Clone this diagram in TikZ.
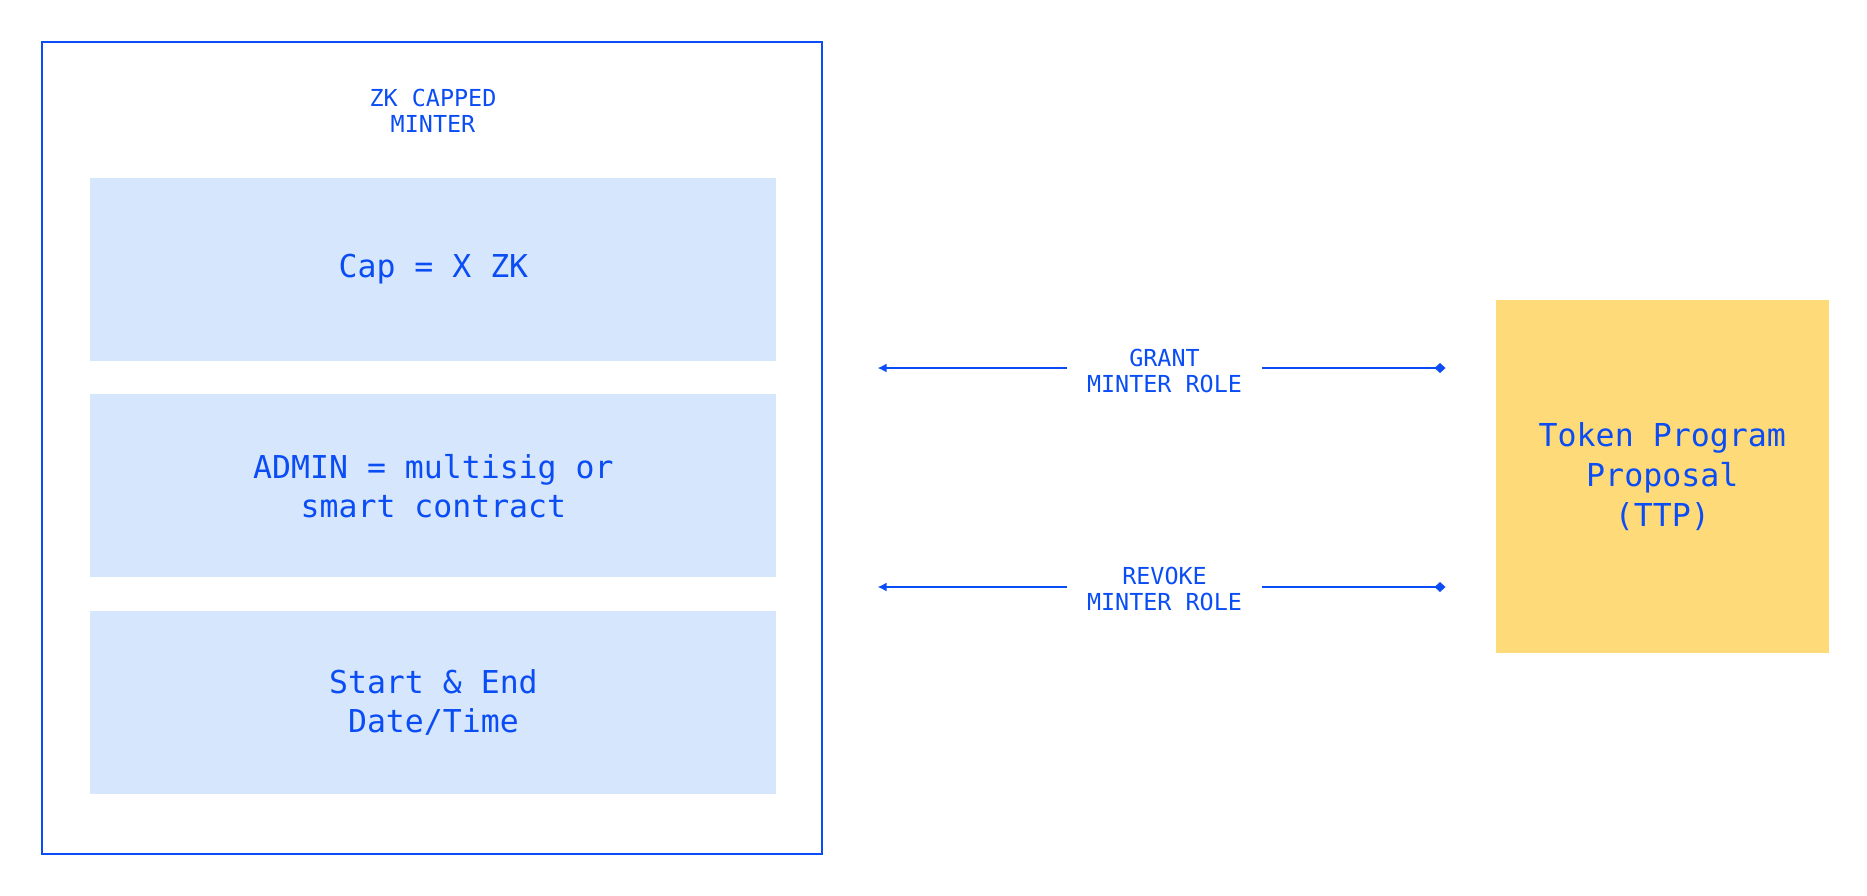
\documentclass[tikz,border=0pt]{standalone}
\usepackage{fontspec}
\setmonofont{DejaVu Sans Mono}
\usetikzlibrary{positioning, arrows.meta}
\definecolor{zkblue}{HTML}{0B4DF5}
\definecolor{zkfill}{HTML}{D6E6FC}
\definecolor{zkgold}{HTML}{FFDA78}

\begin{document}
\begin{tikzpicture}[x=1pt, y=-1pt,
    every node/.style={font=\ttfamily, text=zkblue, align=center},
    field/.style={fill=zkfill, minimum width=686pt, minimum height=183pt,
      font=\fontsize{31.5}{39}\selectfont\ttfamily},
    tag/.style={font=\fontsize{23.4}{25.5}\selectfont\ttfamily, inner xsep=20pt},
    link/.style={zkblue, line width=2pt}]
    \useasboundingbox (0,0) rectangle (1867,895);

    % Minter frame
    \node[draw=zkblue, line width=2pt, minimum width=780pt, minimum height=812pt] (minter) at (431.7,447.7) {};
    \node[tag] (title) at (433,111) {ZK CAPPED\\MINTER};

    % Minter fields
    \node[field] (cap) at (433.4,269.1) {Cap = X ZK};
    \node[field] (admin) at (433.4,485.8) {ADMIN = multisig or\\smart contract};
    \node[field] (dates) at (433.4,702.5) {Start \& End\\Date/Time};

    % Token program proposal
    \node[fill=zkgold, minimum width=333.5pt, minimum height=352.5pt,
      font=\fontsize{31.6}{40}\selectfont\ttfamily] (ttp) at (1662.3,476.3) {Token Program\\Proposal\\(TTP)};

    % Roles
    \node[tag] (grant) at (1164.5,371) {GRANT\\MINTER ROLE};
    \coordinate (gl) at (877.5,368);
    \coordinate (gr) at (1445.5,368);
    \draw[link, {Latex[length=9pt, width=9pt]}-] (gl) -- (gl -| grant.west);
    \draw[link, -{Diamond[length=11pt, width=10pt]}] (gr -| grant.east) -- (gr);

    \node[tag] (revoke) at (1164.5,589) {REVOKE\\MINTER ROLE};
    \coordinate (rl) at (877.5,587);
    \coordinate (rr) at (1445.5,587);
    \draw[link, {Latex[length=9pt, width=9pt]}-] (rl) -- (rl -| revoke.west);
    \draw[link, -{Diamond[length=11pt, width=10pt]}] (rr -| revoke.east) -- (rr);
\end{tikzpicture}
\end{document}
